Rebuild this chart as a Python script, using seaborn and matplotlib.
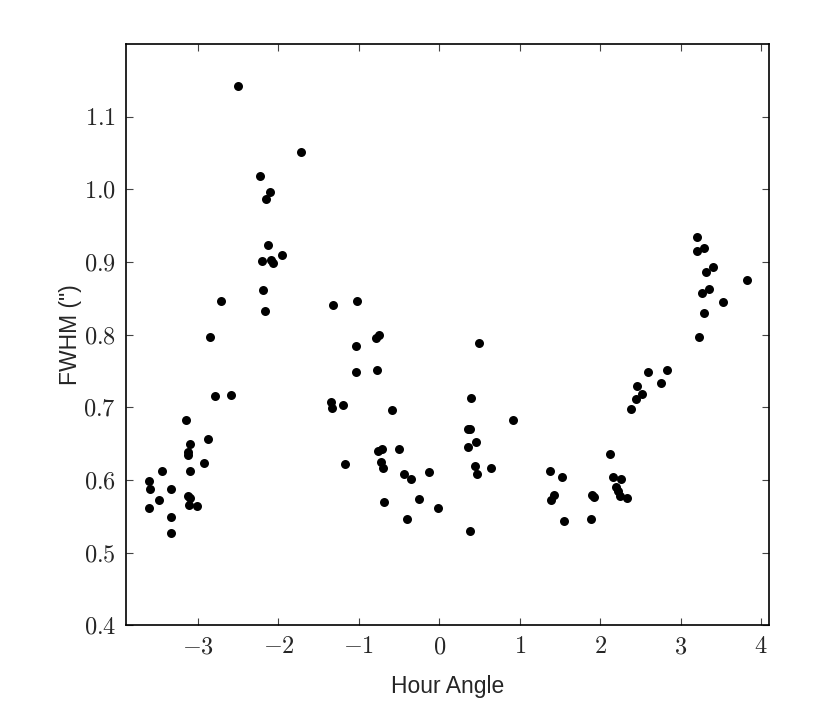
import matplotlib
matplotlib.use("Agg")
import matplotlib.pyplot as plt
from matplotlib.ticker import FuncFormatter
import seaborn as sns
import pandas as pd

hour_angle = [
    -3.608, -3.600, -3.608, -3.489, -3.451, -3.335, -3.340, -3.340,
    -3.148, -3.103, -3.128, -3.128, -3.095, -3.123, -3.098, -3.116, -3.011,
    -2.920, -2.879, -2.846, -2.792, -2.709, -2.588, -2.506,
    -2.228, -2.195, -2.170, -2.208, -2.158, -2.128, -2.108, -2.087, -2.066,
    -1.959, -1.722,
    -1.341, -1.328, -1.320, -1.200, -1.171, -1.021, -1.030, -1.030,
    -0.785, -0.752, -0.769, -0.756, -0.710, -0.727, -0.698, -0.690,
    -0.582, -0.495, -0.445, -0.396, -0.350, -0.250, -0.122, -0.019,
    0.355, 0.363, 0.388, 0.376, 0.400, 0.450, 0.459, 0.467, 0.491, 0.637, 0.914,
    1.375, 1.387, 1.424, 1.524, 1.545, 1.881, 1.897, 1.922,
    2.121, 2.154, 2.192, 2.225, 2.241, 2.262, 2.337,
    2.382, 2.440, 2.453, 2.527, 2.598, 2.755, 2.826,
    3.207, 3.203, 3.224, 3.261, 3.295, 3.295, 3.315, 3.352, 3.402, 3.526, 3.825,
]
fwhm = [
    0.598, 0.588, 0.562, 0.573, 0.613, 0.587, 0.549, 0.527,
    0.682, 0.650, 0.639, 0.635, 0.612, 0.578, 0.575, 0.566, 0.564,
    0.624, 0.657, 0.797, 0.716, 0.847, 0.717, 1.142,
    1.018, 0.861, 0.832, 0.902, 0.987, 0.923, 0.996, 0.903, 0.899,
    0.910, 1.051,
    0.708, 0.699, 0.841, 0.703, 0.622, 0.847, 0.785, 0.749,
    0.796, 0.799, 0.751, 0.640, 0.643, 0.625, 0.617, 0.570,
    0.696, 0.643, 0.608, 0.546, 0.601, 0.574, 0.611, 0.562,
    0.645, 0.670, 0.670, 0.530, 0.713, 0.619, 0.653, 0.608, 0.789, 0.617, 0.682,
    0.612, 0.572, 0.580, 0.604, 0.544, 0.547, 0.579, 0.576,
    0.636, 0.604, 0.591, 0.585, 0.578, 0.601, 0.575,
    0.698, 0.712, 0.729, 0.719, 0.749, 0.734, 0.751,
    0.934, 0.915, 0.797, 0.857, 0.919, 0.830, 0.886, 0.863, 0.893, 0.845, 0.875,
]

x_ticks = [-3, -2, -1, 0, 1, 2, 3, 4]
y_ticks = [0.4, 0.5, 0.6, 0.7, 0.8, 0.9, 1.0, 1.1]

sns.set_style("ticks")
plt.rcParams["font.family"] = ["Liberation Sans", "DejaVu Sans"]
plt.rcParams["mathtext.fontset"] = "cm"

df = pd.DataFrame({"ha": hour_angle, "fwhm": fwhm})

fig = plt.figure(figsize=(8.30, 7.27), dpi=100)
ax = fig.add_axes([0.1514, 0.1398, 0.7751, 0.7997])
sns.scatterplot(data=df, x="ha", y="fwhm", ax=ax, color="black", s=42,
                linewidth=0, legend=False)

ax.set_xlim(-3.9, 4.1)
ax.set_ylim(0.4, 1.2)
ax.set_xticks(x_ticks)
ax.set_yticks(y_ticks)
ax.xaxis.set_major_formatter(FuncFormatter(lambda v, p: f"${v:g}$"))
ax.yaxis.set_major_formatter(FuncFormatter(lambda v, p: f"${v:.1f}$"))
ax.tick_params(direction="in", top=True, right=True, length=5, width=0.8,
               labelsize=17.5, color="#444444")
ax.tick_params(axis="x", pad=8)
ax.tick_params(axis="y", pad=7)
for sp in ax.spines.values():
    sp.set_visible(True)
    sp.set_linewidth(1.2)
    sp.set_color("black")

ax.set_xlabel("Hour Angle", fontsize=16.5, labelpad=12)
ax.set_ylabel('FWHM (")', fontsize=16.5, labelpad=1)

fig.savefig("out.png", dpi=100)
